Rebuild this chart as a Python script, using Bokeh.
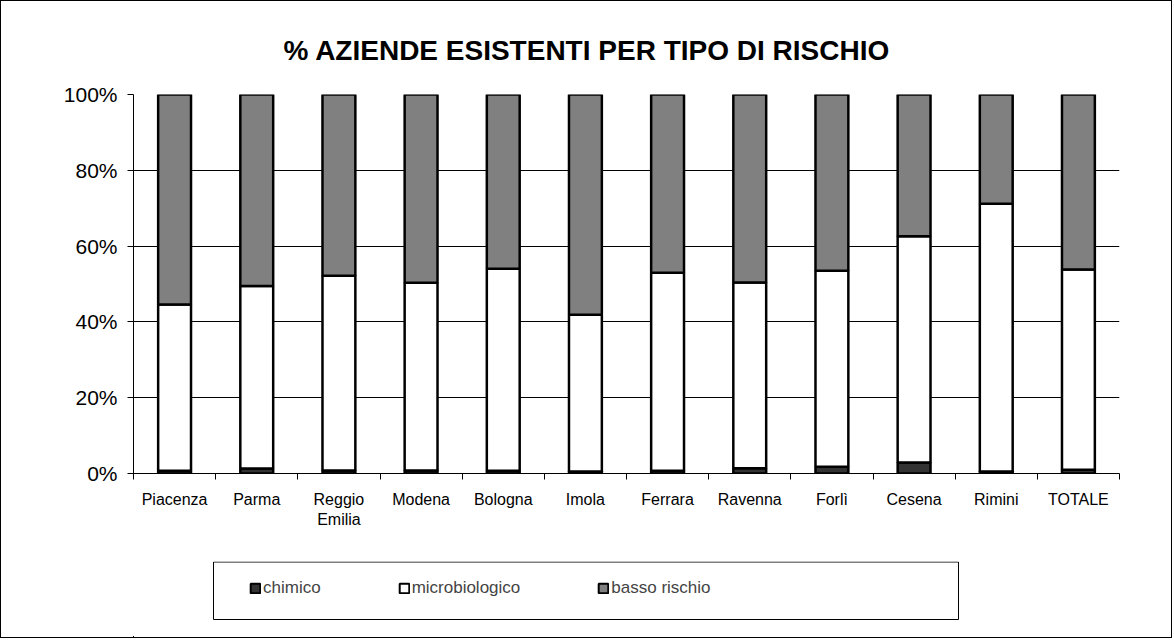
from bokeh.plotting import figure
from bokeh.layouts import column
from bokeh.models import (Range1d, LinearAxis, FixedTicker, CustomJSTickFormatter,
                          PrintfTickFormatter, Legend, LegendItem, ColumnDataSource,
                          BoxAnnotation)
from bokeh.embed import file_html
from bokeh.resources import INLINE

categories = ["Piacenza", "Parma", "Reggio Emilia", "Modena", "Bologna", "Imola",
              "Ferrara", "Ravenna", "Forlì", "Cesena", "Rimini", "TOTALE"]
tick_labels = ["Piacenza", "Parma", "Reggio\nEmilia", "Modena", "Bologna", "Imola",
               "Ferrara", "Ravenna", "Forlì", "Cesena", "Rimini", "TOTALE"]
chimico = [0.7, 1.3, 0.8, 0.8, 0.7, 0.5, 0.7, 1.4, 1.8, 2.9, 0.5, 1.0]
microbiologico = [43.9, 48.2, 51.4, 49.5, 53.3, 41.4, 52.3, 49.0, 51.7, 59.7, 70.7, 52.8]
basso_rischio = [55.4, 50.5, 47.8, 49.7, 46.0, 58.1, 47.0, 49.6, 46.5, 37.4, 28.8, 46.2]
series_names = ["chimico", "microbiologico", "basso rischio"]
series_colors = ["#333333", "#ffffff", "#808080"]
y_ticks = [0, 20, 40, 60, 80, 100]
title_text = "% AZIENDE ESISTENTI PER TIPO DI RISCHIO"

FONT = "Liberation Sans"
n = len(categories)
centers = [i + 0.5 for i in range(n)]
stack_keys = ["chimico", "microbiologico", "basso"]

src = ColumnDataSource(dict(x=centers, cat=categories, chimico=chimico,
                            microbiologico=microbiologico, basso=basso_rischio))

W = 1170
BL, BR = 132, 52
p = figure(x_range=Range1d(0, n), y_range=Range1d(0, 100),
           width=W, height=560, output_backend="svg", toolbar_location=None,
           x_axis_location=None, min_border_left=BL, min_border_right=BR,
           min_border_top=93, min_border_bottom=88)
p.outline_line_color = None
p.background_fill_color = "white"
p.border_fill_color = "white"

p.title.text = title_text
p.title.text_font = FONT
p.title.text_font_style = "bold"
p.title.text_font_size = "28px"
p.title.text_color = "black"
p.title.align = "left"
p.title.offset = 150
p.title.standoff = 58

# y axis
yax = p.yaxis[0]
yax.ticker = FixedTicker(ticks=y_ticks)
yax.formatter = PrintfTickFormatter(format="%d%%")
yax.major_tick_out = 6
yax.major_tick_in = 0
yax.minor_tick_line_color = None
yax.axis_line_color = "black"
yax.major_tick_line_color = "black"
yax.major_label_text_font = FONT
yax.major_label_text_font_size = "21px"
yax.major_label_text_color = "black"
yax.major_label_standoff = 10

p.ygrid.ticker = FixedTicker(ticks=y_ticks)
p.ygrid.grid_line_color = "black"
p.ygrid.grid_line_width = 1
p.xgrid.grid_line_color = None

# x axis: ticks at category boundaries, labels at centres
tick_axis = LinearAxis(ticker=FixedTicker(ticks=list(range(n + 1))),
                       formatter=CustomJSTickFormatter(code="return '';"),
                       major_label_text_font_size="0px",
                       major_tick_out=6, major_tick_in=0, minor_tick_line_color=None,
                       major_label_standoff=0,
                       axis_line_color="black", major_tick_line_color="black")
p.add_layout(tick_axis, "below")
label_axis = LinearAxis(ticker=FixedTicker(ticks=centers),
                        formatter=CustomJSTickFormatter(args=dict(labels=tick_labels),
                                                        code="return labels[Math.floor(tick)];"),
                        major_tick_line_color=None, axis_line_color=None,
                        minor_tick_line_color=None,
                        major_tick_out=0, major_tick_in=0,
                        major_label_text_font=FONT, major_label_text_font_size="16px",
                        major_label_text_color="black", major_label_standoff=11)
p.add_layout(label_axis, "below")

p.vbar_stack(stack_keys, x="x", width=0.4, source=src,
             fill_color=series_colors, line_color="black", line_width=2.5)

# legend strip (same horizontal borders so the column keeps frames aligned)
LH = 76
lg = figure(x_range=Range1d(100, 101), y_range=Range1d(200, 300), width=W, height=LH,
            output_backend="svg", toolbar_location=None,
            x_axis_location=None, y_axis_location=None,
            min_border_left=BL, min_border_right=BR, min_border_top=0, min_border_bottom=0)
lg.xgrid.grid_line_color = None
lg.ygrid.grid_line_color = None
lg.outline_line_color = None
lg.background_fill_color = "white"
lg.border_fill_color = "white"

# same stacked data; it lies outside this strip's ranges, so only its legend shows
lrs = lg.vbar_stack(stack_keys, x="x", width=0.4, source=src,
                    fill_color=series_colors, line_color="black", line_width=2)

legend = Legend(items=[LegendItem(label=nm, renderers=[r]) for nm, r in zip(series_names, lrs)],
                orientation="horizontal", location=(116, 39), spacing=77,
                glyph_width=12, glyph_height=12, label_standoff=2,
                label_text_font=FONT, label_text_font_size="17px",
                border_line_color=None, background_fill_alpha=0, padding=0, margin=0)
lg.add_layout(legend, "center")

lg.add_layout(BoxAnnotation(left=80, right=825, top=LH - 0.5, bottom=18,
                            left_units="screen", right_units="screen",
                            top_units="screen", bottom_units="screen",
                            fill_alpha=0, line_color="black", line_width=1, line_alpha=1))

layout = column(p, lg, spacing=0, styles={"border": "1px solid black"})

open("out.html", "w").write(file_html(layout, INLINE))
